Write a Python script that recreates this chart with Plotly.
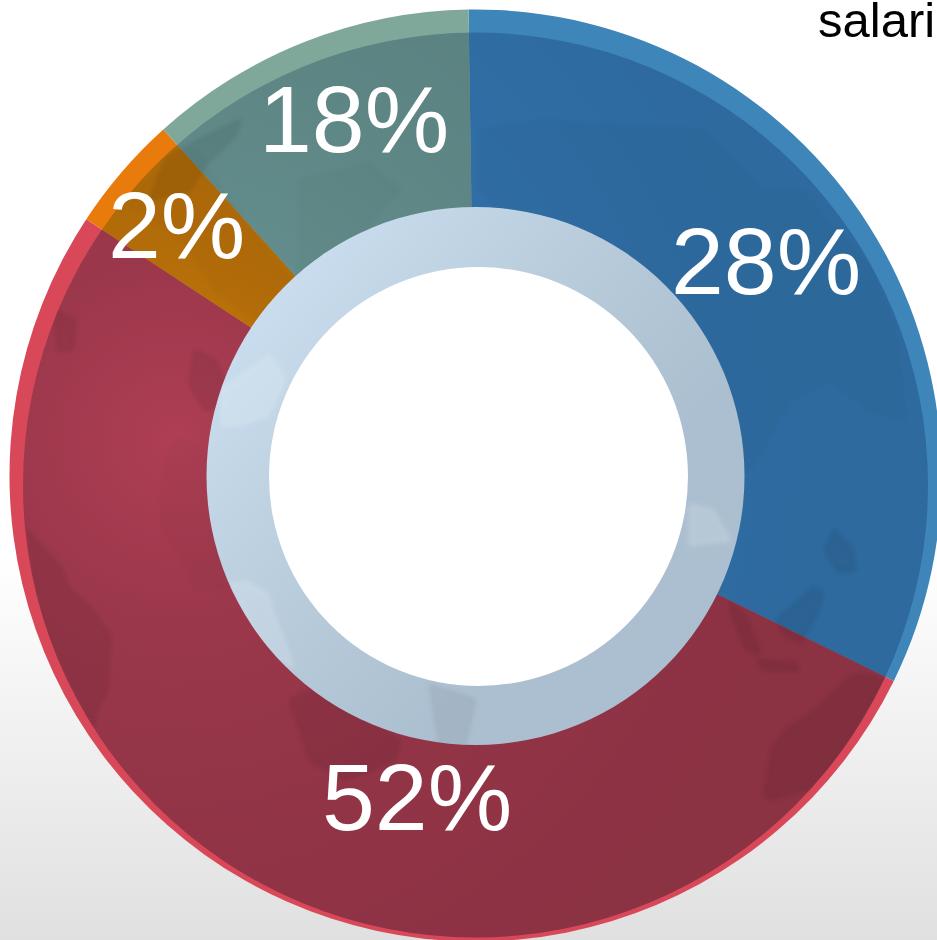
import base64
import plotly.graph_objects as go

# ---- data ----
categories = ["Blue", "Red", "Orange", "Green"]
slice_shares = [32.5, 52.0, 4.05, 11.45]          # swept angle of each slice
slice_labels = ["28%", "52%", "2%", "18%"]
rim_colors = ["#3e86ba", "#d84859", "#e87b0c", "#80a89a"]
face_colors = ["#3984c6", "#ae3e54", "#c97a0a", "#6f9f9e"]
corner_text = "salaries"

W, H = 960, 960
CX, CY, R = 475.5, 475.5, 466


def domain(cx, cy, r):
    return dict(x=[(cx - r) / W, (cx + r) / W], y=[1 - (cy + r) / H, 1 - (cy - r) / H])


def svg_uri(body):
    svg = f'<svg xmlns="http://www.w3.org/2000/svg" width="{W}" height="{H}" viewBox="0 0 {W} {H}">{body}</svg>'
    return "data:image/svg+xml;base64," + base64.b64encode(svg.encode()).decode()


def poly(points):
    return "M" + " L".join(f"{x},{y}" for x, y in points) + "Z"


def circle(cx, cy, r):
    return f"M{cx-r},{cy} A{r},{r} 0 1 0 {cx+r},{cy} A{r},{r} 0 1 0 {cx-r},{cy}Z"


# decorative backdrop: page gradient
backdrop = svg_uri(
    '<defs><linearGradient id="b" x1="0" y1="0" x2="0" y2="1">'
    '<stop offset="0.58" stop-color="#ffffff"/><stop offset="0.98" stop-color="#e0e0e0"/>'
    f'</linearGradient></defs><rect width="{W}" height="{H}" fill="url(#b)"/>'
)

# decorative overlay: globe shading and faint continents
land_dark = [
    [(853,675),(877,677),(883,683),(820,787),(800,790),(770,800),(765,793),(773,747),(787,730),(817,710),(833,693)],
    [(730,603),(745,615),(760,653),(747,650),(733,617)],
    [(758,660),(797,664),(797,671),(765,670)],
    [(813,587),(823,593),(817,613),(800,643),(783,633),(777,620),(800,600)],
    [(834,530),(852,548),(855,570),(838,572),(825,550)],
    [(27,530),(63,570),(67,587),(93,610),(110,637),(107,693),(97,707),(93,727),(40,620)],
    [(55,310),(75,320),(72,350),(58,350)],
    [(165,160),(180,150),(240,120),(235,135),(205,165),(190,190),(150,200)],
    [(195,350),(215,360),(230,400),(205,410),(190,385)],
    [(290,700),(310,690),(400,740),(395,760),(345,780),(310,760)],
]
land_soft = [
    [(480,130),(540,120),(620,125),(700,130),(760,190),(800,190),(870,270),(895,330),(905,420),(870,410),
     (830,380),(790,400),(750,470),(720,470),(640,300),(540,260),(480,190)],
    [(163,480),(160,523),(197,587),(227,587),(240,500),(205,450),(175,440)],
    [(300,180),(370,165),(400,190),(345,250),(300,270)],
    [(195,150),(250,230),(300,290),(255,320),(215,290),(185,240),(120,200)],
]
land_light = [
    [(230,583),(248,583),(267,593),(273,613),(293,667),(277,657),(247,620)],
    [(222,390),(270,355),(285,380),(268,415),(240,425),(222,425)],
    [(690,505),(712,510),(730,540),(690,545)],
]
ring_dark = [[(430,685),(475,700),(465,745),(440,745)]]

paths = lambda pts, op, col: "".join(
    f'<path d="{poly(p)}" fill="{col}" fill-opacity="{op}" stroke="{col}" stroke-opacity="{op}" '
    f'stroke-width="3" stroke-linejoin="round" filter="url(#soft)"/>' for p in pts
)

overlay = svg_uri(
    '<defs>'
    '<filter id="soft" x="-20%" y="-20%" width="140%" height="140%"><feGaussianBlur stdDeviation="2.5"/></filter>'
    '<radialGradient id="g" gradientUnits="userSpaceOnUse" cx="175" cy="440" r="620">'
    '<stop offset="0" stop-color="#000" stop-opacity="0"/>'
    '<stop offset="0.3" stop-color="#000" stop-opacity="0.11"/>'
    '<stop offset="0.6" stop-color="#000" stop-opacity="0.16"/>'
    '<stop offset="1" stop-color="#000" stop-opacity="0.2"/></radialGradient>'
    '<linearGradient id="r" gradientUnits="userSpaceOnUse" x1="240" y1="330" x2="660" y2="680">'
    '<stop offset="0" stop-color="#000" stop-opacity="0"/>'
    '<stop offset="0.75" stop-color="#102030" stop-opacity="0.16"/></linearGradient>'
    f'<clipPath id="disc"><path clip-rule="evenodd" d="{circle(475.5,485,452.5)} {circle(475.5,476,269)}"/></clipPath>'
    f'<clipPath id="ring"><path clip-rule="evenodd" d="{circle(475.5,476,269)} {circle(478.5,476.5,209.5)}"/></clipPath>'
    '</defs>'
    f'<g clip-path="url(#disc)"><rect width="{W}" height="{H}" fill="url(#g)"/>'
    f'{paths(land_dark, 0.07, "#000")}{paths(land_soft, 0.025, "#000")}</g>'
    f'<g clip-path="url(#ring)"><rect width="{W}" height="{H}" fill="url(#r)"/>'
    f'{paths(land_light, 0.13, "#fff")}{paths(ring_dark, 0.05, "#000")}</g>'
)

fig = go.Figure()
common = dict(
    labels=categories, values=slice_shares, sort=False, direction="clockwise", rotation=-0.85,
    textinfo="none", hoverinfo="skip", showlegend=False, domain=domain(CX, CY, R), hole=0.5,
)
fig.add_trace(go.Pie(marker=dict(colors=rim_colors, line=dict(width=0)), **common))
fig.add_trace(go.Pie(marker=dict(colors=face_colors, line=dict(width=0)), **common))
fig.add_trace(go.Pie(
    values=[1], labels=["ring"], sort=False, textinfo="none", hoverinfo="skip", showlegend=False,
    marker=dict(colors=["#c9ddee"], line=dict(width=0)), hole=0.6, domain=domain(475.5, 476, 269),
))
fig.add_trace(go.Pie(
    values=[1], labels=["centre"], sort=False, textinfo="none", hoverinfo="skip", showlegend=False,
    marker=dict(colors=["#ffffff"], line=dict(width=0)), domain=domain(478.5, 476.5, 209.5),
))

label_pos = [(766, 261), (417, 797), (176, 225), (354, 119)]
annotations = [
    dict(text=t, x=x / W, y=1 - y / H, xref="paper", yref="paper", showarrow=False,
         xanchor="center", yanchor="middle", font=dict(family="Liberation Sans", size=95, color="#ffffff"))
    for t, (x, y) in zip(slice_labels, label_pos)
]
annotations.append(dict(
    text=corner_text, x=818 / W, y=1 - 20 / H, xref="paper", yref="paper", showarrow=False,
    xanchor="left", yanchor="middle", xshift=-2,
    font=dict(family="Liberation Sans", size=49, color="#000000"),
))

fig.update_layout(
    width=W, height=H, margin=dict(l=0, r=0, t=0, b=0), paper_bgcolor="#ffffff",
    annotations=annotations,
    images=[
        dict(source=backdrop, xref="paper", yref="paper", x=0, y=1, sizex=1, sizey=1,
             sizing="stretch", xanchor="left", yanchor="top", layer="below"),
        dict(source=overlay, xref="paper", yref="paper", x=0, y=1, sizex=1, sizey=1,
             sizing="stretch", xanchor="left", yanchor="top", layer="above"),
    ],
)

post = """
document.body.style.margin='0';
document.body.style.overflow='hidden';
document.documentElement.style.overflow='hidden';
var t=document.querySelectorAll('.pielayer .trace');
if(t[1]){t[1].style.clipPath='circle(452.5px at 475.5px 485px) view-box';}
"""
fig.write_html("out.html", post_script=post, config={"displayModeBar": False})
